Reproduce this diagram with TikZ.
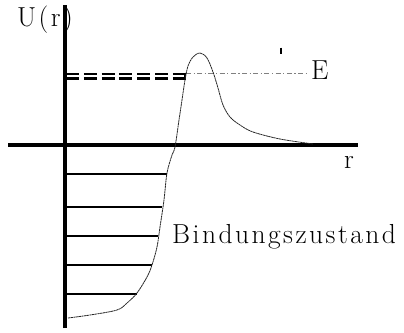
\documentclass[tikz,border=0pt]{standalone}
\usepackage{fontspec}
\newfontfamily\lmbig{lmroman17-regular.otf}[LetterSpace=9]
\begin{document}
\begin{tikzpicture}[x=1pt,y=-1pt,
  lbl/.style={inner sep=0pt,font=\lmbig\fontsize{27.5}{32}\selectfont},
  axis/.style={line width=3.4pt},
  level/.style={line width=2.9pt},
  edash/.style={line width=2.8pt,dash pattern=on 13pt off 4.8pt},
  eline/.style={line width=0.8pt,gray,dash pattern=on 5pt off 2.5pt on 1.2pt off 2.5pt},
  pot/.style={line width=0.8pt,black!85,dash pattern=on 2.2pt off 0.5pt}]
\useasboundingbox (0,0) rectangle (404,332);
% axes
\coordinate (yt) at (65,5);
\coordinate (yb) at (65,328);
\coordinate (xl) at (8,145);
\coordinate (xr) at (358,145);
\draw[axis] (yb) -- (yt);
\draw[axis] (xl) -- (xr);
% labels
\node[lbl,anchor=base west] (U) at (17,26) {U(r)};
\node[lbl,anchor=base west] (r) at (344,168) {r};
\node[lbl,anchor=base west] (E) at (311,79) {E};
\node[lbl,anchor=base west] (B) at (172,243) {Bindungszustand};
% bound levels
\foreach \y/\xe in {174/167,207/162,236/158,265/152,294/137}{
  \draw[level] (65,\y) -- (\xe,\y);
}
% energy E dashed (double)
\coordinate (d1a) at (66,74);
\coordinate (d1b) at (186,74);
\coordinate (d2a) at (66,78.7);
\coordinate (d2b) at (186,78.7);
\draw[edash] (d1a) -- (d1b);
\draw[edash] (d2a) -- (d2b);
\draw[line width=1.5pt] (185,72.6) -- (185,80.1);
% E line
\coordinate (ea) at (186,73);
\draw[eline] (ea) -- ([xshift=-3pt]E.west |- ea);
% tick
\draw[line width=2.2pt] (281,47.5) -- (281,54);
% potential curve
\draw[pot] plot[smooth,tension=0.55] coordinates {
 (68,318) (90,315) (117,310) (127,303) (137,293) (147,277) (152,265)
 (157,247) (160,227) (164,200) (167,173) (172,155) (175,147) (179,120)
 (182,100) (185,80) (188,66) (193,57) (200,53) (207,58) (213,72)
 (218,88) (223,105) (230,117) (240,125) (253,132) (280,139) (313,144)};
\end{tikzpicture}
\end{document}
